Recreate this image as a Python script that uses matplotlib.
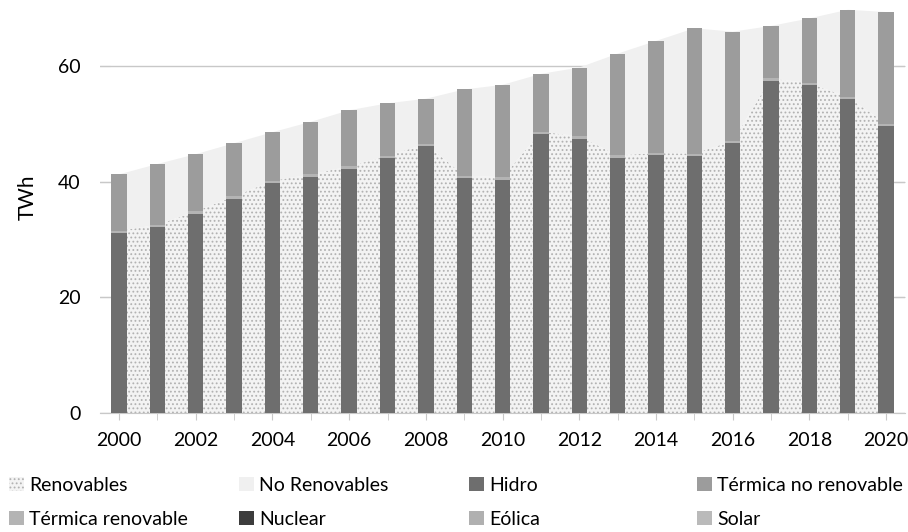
import numpy as np
import matplotlib.pyplot as plt
from matplotlib.patches import Patch

plt.rcParams['font.family'] = ['Lato', 'DejaVu Sans']

years = np.arange(2000, 2021)
tick_years = np.arange(2000, 2021, 2)

# TWh
hidro = [31.1, 32.2, 34.5, 37.1, 39.8, 40.9, 42.3, 44.1, 46.2, 40.7, 40.4,
         48.3, 47.5, 44.2, 44.6, 44.5, 46.7, 57.5, 56.7, 54.3, 49.7]
termica_renovable = [0.4] * 21
termica_no_renovable = [9.8, 10.5, 9.9, 9.2, 8.4, 9.1, 9.7, 9.1, 7.8, 14.9, 16.0,
                        10.0, 11.9, 17.6, 19.4, 21.7, 18.9, 9.1, 11.2, 15.1, 19.3]
nuclear = [0.0] * 21
eolica = [0.0] * 21
solar = [0.0] * 21

renovables = [31.5, 32.6, 34.9, 37.5, 40.2, 41.3, 42.7, 44.5, 46.6, 41.1, 40.8,
              48.7, 47.9, 44.6, 45.0, 44.9, 47.1, 57.9, 57.1, 54.7, 50.1]
no_renovables = [9.8, 10.5, 9.9, 9.2, 8.4, 9.1, 9.7, 9.1, 7.8, 14.9, 16.0,
                 10.0, 11.9, 17.6, 19.4, 21.7, 18.9, 9.1, 11.2, 15.1, 19.3]

plt.rcParams['hatch.linewidth'] = 0.8

fig = plt.figure(figsize=(9.08, 5.32), dpi=100)
ax = fig.add_axes([0.110, 0.2237, 0.887, 0.771])

ren = np.array(renovables)
total = ren + np.array(no_renovables)

# background areas
ax.fill_between(years, 0, ren, facecolor='#f3f3f3', edgecolor='#b2b2b2',
                hatch='....', linewidth=0, zorder=2)
ax.fill_between(years, ren, total, facecolor='#f0f0f0', linewidth=0, zorder=2)

# stacked bars
w = 0.4
bottom = np.zeros(len(years))
bar_series = [(hidro, '#6e6e6e'), (termica_renovable, '#b4b4b4'),
              (nuclear, '#3c3c3c'), (eolica, '#b0b0b0'), (solar, '#bababa'),
              (termica_no_renovable, '#9c9c9c')]
for vals, col in bar_series:
    ax.bar(years, vals, w, bottom=bottom, color=col, linewidth=0, zorder=3)
    bottom += np.array(vals)

ax.set_xlim(1999.5, 2020.5)
ax.set_ylim(0, 71)
ax.set_yticks([0, 20, 40, 60])
ax.set_xticks(years, minor=True)
ax.set_xticks(tick_years)
ax.set_xticklabels([str(y) for y in tick_years])
ax.grid(axis='y', color='#c8c8c8', linewidth=1)
ax.set_axisbelow(True)

for s in ['top', 'left', 'right']:
    ax.spines[s].set_visible(False)
ax.spines['bottom'].set_color('#c8c8c8')

ax.tick_params(axis='y', direction='in', left=True, right=True, length=7,
               color='#c8c8c8', labelsize=14, pad=14)
ax.tick_params(axis='x', which='both', length=5, color='#c8c8c8')
ax.tick_params(axis='x', which='major', labelsize=14, pad=9)

ax.set_ylabel('TWh', fontsize=15)
ax.yaxis.set_label_coords(-0.077, 0.527)

# legend, four columns placed by hand
handles = [
    [Patch(facecolor='#f3f3f3', edgecolor='#b2b2b2', hatch='....', linewidth=0, label='Renovables'),
     Patch(facecolor='#b4b4b4', label='Térmica renovable')],
    [Patch(facecolor='#f0f0f0', label='No Renovables'),
     Patch(facecolor='#3c3c3c', label='Nuclear')],
    [Patch(facecolor='#6e6e6e', label='Hidro'),
     Patch(facecolor='#b0b0b0', label='Eólica')],
    [Patch(facecolor='#9c9c9c', label='Térmica no renovable'),
     Patch(facecolor='#bababa', label='Solar')],
]
xs = [9, 239, 469, 697]
for x, h in zip(xs, handles):
    fig.legend(handles=h, loc='upper left', bbox_to_anchor=(x / 908, 1 - 477 / 532),
               frameon=False, fontsize=14, handlelength=0.75, handleheight=0.75,
               handletextpad=0.3, labelspacing=0.85, borderaxespad=0, borderpad=0)

fig.savefig('out.png', dpi=100)
